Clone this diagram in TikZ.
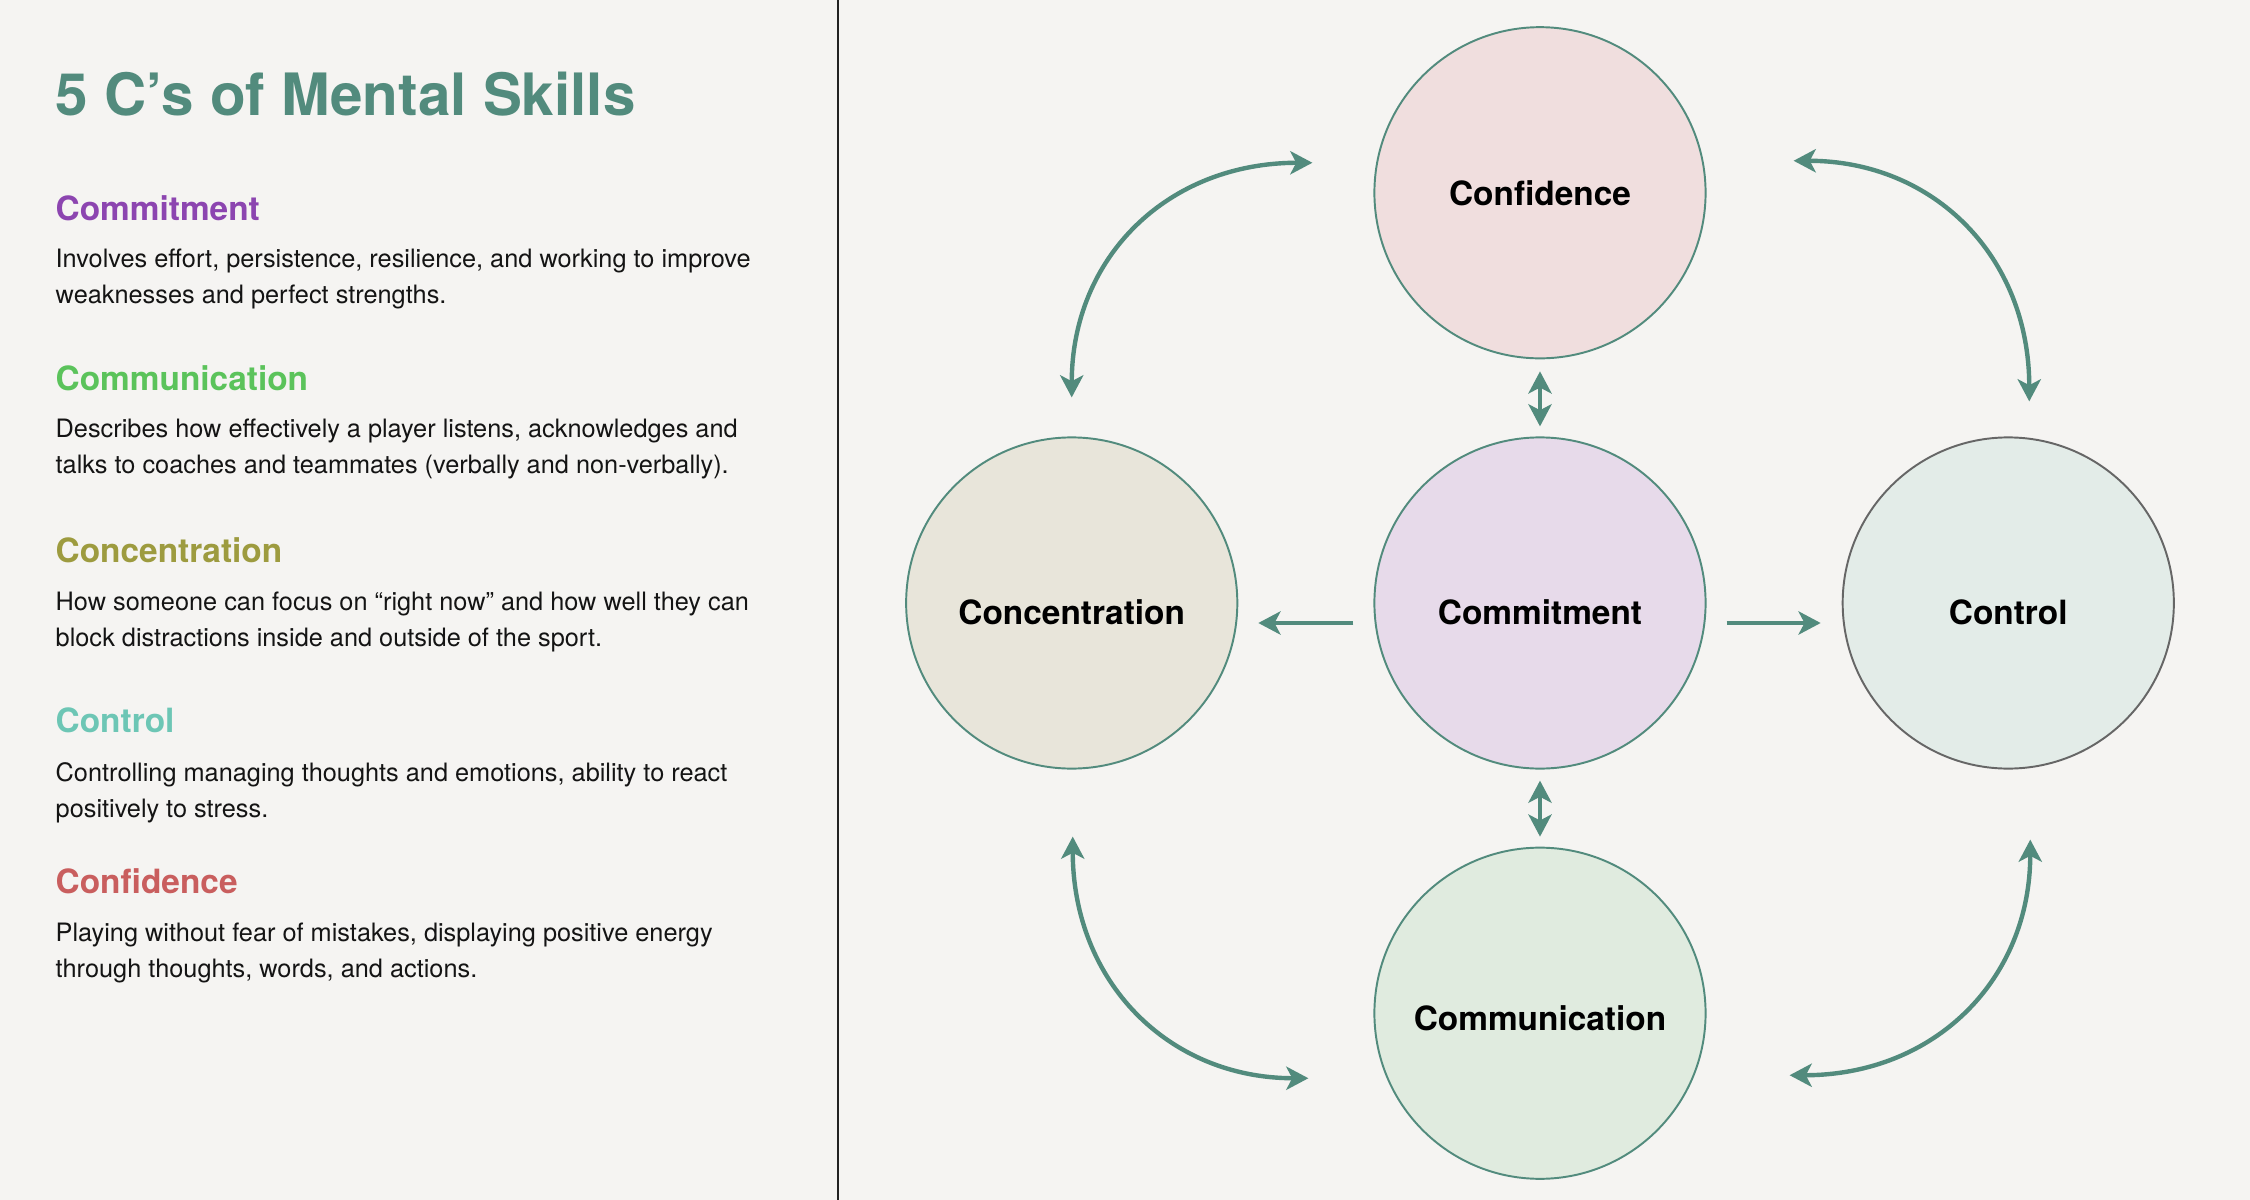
\documentclass[tikz,border=0pt]{standalone}
\usepackage{fontspec}
\setmainfont{TeX Gyre Heros}
\usepackage{xcolor}
\usetikzlibrary{positioning, arrows.meta, calc}

\definecolor{paper}{HTML}{F5F4F2}
\definecolor{sage}{HTML}{528B7D}
\definecolor{rulegray}{HTML}{222222}
\definecolor{inkgray}{HTML}{141414}
\definecolor{commitc}{HTML}{8C45B0}
\definecolor{communc}{HTML}{5BC35B}
\definecolor{concenc}{HTML}{9D9B3F}
\definecolor{controlc}{HTML}{6DC6B5}
\definecolor{confidc}{HTML}{C95E5E}
\definecolor{commitfill}{HTML}{E7DAEA}
\definecolor{communfill}{HTML}{E0EBDF}
\definecolor{concenfill}{HTML}{E8E5DA}
\definecolor{controlfill}{HTML}{E3ECE8}
\definecolor{confidfill}{HTML}{F0DEDE}
\definecolor{controledge}{HTML}{666666}

\begin{document}
\begin{tikzpicture}[
    x=0.01cm, y=-0.01cm,
    node distance=0.79cm and 1.37cm,
    >={Stealth[length=6.3pt, width=6.6pt, inset=1.7pt]},
    skill/.style={circle, draw=sage, line width=0.55pt, minimum size=3.31cm, inner sep=0pt, outer sep=0pt, font=\fontsize{9.5}{11}\selectfont\bfseries},
    midrow/.style={text height=12.5pt, text depth=0pt},
    headline/.style={anchor=base west, inner sep=0pt, text=sage, font=\fontsize{16.6}{20}\selectfont\bfseries},
    heading/.style={anchor=base west, inner sep=0pt, font=\fontsize{9.5}{11}\selectfont\bfseries},
    blurb/.style={anchor=base west, inner sep=0pt, align=left, text=inkgray, font=\fontsize{7.2}{9.96}\selectfont},
    link/.style={draw=sage, line width=1.25pt},
]

% Page and divider
\useasboundingbox (0,0) rectangle (2250,1200);
\fill[paper] (0,0) rectangle (2250,1200);
\draw[rulegray, line width=0.6pt] (838,0) -- (838,1200);

% Left column (blurbs sit on the baseline of their last line)
\node[headline] (title) at (55,115) {5 C’s of Mental Skills};

\node[heading, text=commitc] (hcommit) at (55,220) {Commitment};
\node[blurb] (bcommit) at (55,303) {Involves effort, persistence, resilience, and working to improve\\weaknesses and perfect strengths.};

\node[heading, text=communc] (hcommun) at (55,390) {Communication};
\node[blurb] (bcommun) at (55,473) {Describes how effectively a player listens, acknowledges and\\talks to coaches and teammates (verbally and non-verbally).};

\node[heading, text=concenc] (hconcen) at (55,562) {Concentration};
\node[blurb] (bconcen) at (55,646) {How someone can focus on “right now” and how well they can\\block distractions inside and outside of the sport.};

\node[heading, text=controlc] (hcontrol) at (55,732) {Control};
\node[blurb] (bcontrol) at (55,817) {Controlling managing thoughts and emotions, ability to react\\positively to stress.};

\node[heading, text=confidc] (hconfid) at (55,893) {Confidence};
\node[blurb] (bconfid) at (55,977) {Playing without fear of mistakes, displaying positive energy\\through thoughts, words, and actions.};

% Circles
\node[skill, midrow, fill=commitfill] (commit) at (1540,603) {Commitment};
\node[skill, fill=confidfill, above=of commit] (confid) {Confidence};
\node[skill, fill=communfill, below=of commit, text height=9.7pt, text depth=0pt] (commun) {Communication};
\node[skill, midrow, fill=concenfill, left=of commit] (concen) {Concentration};
\node[skill, midrow, fill=controlfill, draw=controledge, right=of commit] (control) {Control};

% Straight arrows
\draw[link, ->] ($(commit.west)+(-21,20)$) -- ($(concen.east)+(21,20)$);
\draw[link, ->] ($(commit.east)+(21,20)$) -- ($(control.west)+(-22,20)$);
\draw[link, <->] ($(confid.south)+(0,13)$) -- ($(commit.north)+(0,-11)$);
\draw[link, <->] ($(commit.south)+(0,12)$) -- ($(commun.north)+(0,-11)$);

% Curved arrows
\draw[link, <->] ($(concen.north)+(0,-40)$) .. controls +(0,-140) and +(-145,0) .. ($(confid.west)+(-62,-30)$);
\draw[link, <->] ($(confid.east)+(88,-32)$) .. controls +(140,0) and +(0,-145) .. ($(control.north)+(21,-36)$);
\draw[link, <->] ($(concen.south)+(1,68)$) .. controls +(0,145) and +(-140,0) .. ($(commun.west)+(-66,65)$);
\draw[link, <->] ($(control.south)+(22,71)$) .. controls +(0,140) and +(145,0) .. ($(commun.east)+(84,62)$);

\end{tikzpicture}
\end{document}
